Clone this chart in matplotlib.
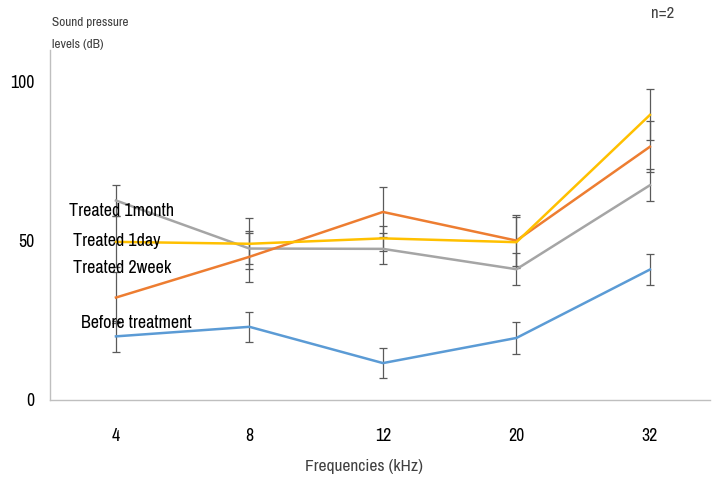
import matplotlib.pyplot as plt
import numpy as np

plt.rcParams['font.family'] = ['Archivo Narrow', 'DejaVu Sans']

freqs = ['4', '8', '12', '20', '32']
before = [20.0, 23.0, 11.6, 19.5, 41.0]
day1 = [49.7, 49.1, 50.8, 49.6, 89.6]
week2 = [32.2, 45.0, 59.1, 50.1, 79.6]
month1 = [62.7, 47.6, 47.5, 41.1, 67.5]

err_before = [4.9, 4.8, 4.7, 4.9, 4.9]
err_day1 = [8.0, 8.0, 4.0, 8.0, 8.0]
err_week2 = [8.0, 8.0, 8.0, 8.0, 8.0]
err_month1 = [5.0, 5.0, 4.9, 5.0, 5.0]

series = [
    ('Before treatment', before, err_before, '#5B9BD5'),
    ('Treated 1month', month1, err_month1, '#A5A5A5'),
    ('Treated 2week', week2, err_week2, '#ED7D31'),
    ('Treated 1day', day1, err_day1, '#FFC000'),
]

W, H = 722, 483
fig = plt.figure(figsize=(W / 100, H / 100), dpi=100)
ax = fig.add_axes([50 / W, 1 - 400 / H, 660 / W, 350 / H])

x = np.arange(len(freqs))
for name, vals, err, col in series:
    ax.errorbar(x, vals, yerr=err, fmt='none', ecolor='#5a5a5a',
                elinewidth=0.9, capsize=3, capthick=0.9, zorder=2)
for name, vals, err, col in series:
    ax.plot(x, vals, color=col, lw=1.8, zorder=3)

ax.set_xlim(-0.494, 4.45)
ax.set_ylim(0, 110)
ax.set_xticks(x)
ax.set_xticklabels(freqs)
ax.set_yticks([0, 50, 100])
ax.tick_params(axis='x', length=0, pad=20, labelsize=12.8)
ax.tick_params(axis='y', length=0, pad=11, labelsize=12.8)
for s in ['top', 'right']:
    ax.spines[s].set_visible(False)
for s in ['left', 'bottom']:
    ax.spines[s].set_color('#BFBFBF')
    ax.spines[s].set_linewidth(1.0)

# series labels
labels = [('Treated 1month', 69, 211), ('Treated 1day', 73, 241),
          ('Treated 2week', 73, 268), ('Before treatment', 81, 323)]
for txt, px, py in labels:
    fig.text(px / W, 1 - py / H, txt, fontsize=13, ha='left', va='center')

fig.text(52 / W, 1 - 23 / H, 'Sound pressure', fontsize=9.6, ha='left', va='center', color='#404040')
fig.text(52 / W, 1 - 44 / H, 'levels (dB)', fontsize=9.6, ha='left', va='center', color='#404040')
fig.text(663 / W, 1 - 14 / H, 'n=2', fontsize=12, ha='center', va='center', color='#404040')
fig.text(364 / W, 1 - 466 / H, 'Frequencies (kHz)', fontsize=12.5, ha='center', va='center', color='#404040')

fig.savefig('out.png', dpi=100)
